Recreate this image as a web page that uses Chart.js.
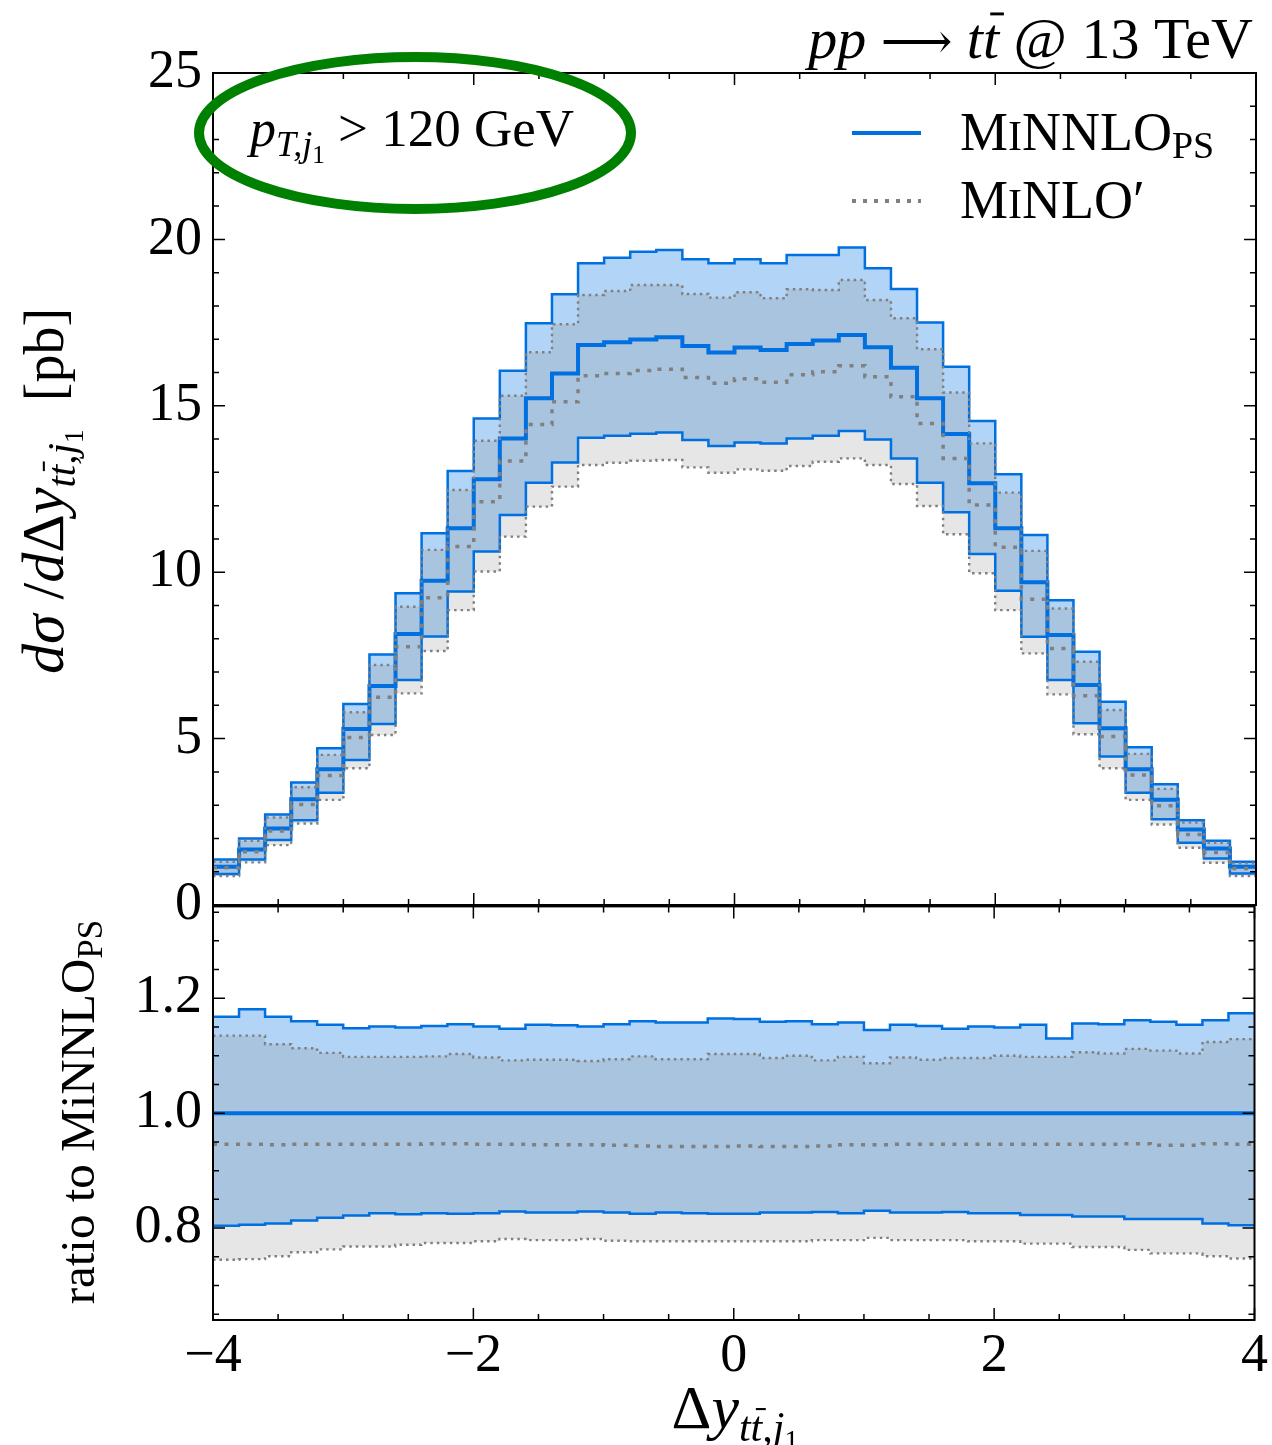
<!DOCTYPE html>
<html>
<head>
<meta charset="utf-8">
<script src="https://cdn.jsdelivr.net/npm/chart.js@4.4.1/dist/chart.umd.min.js"></script>
<style>
  html, body { margin: 0; padding: 0; background: #fff; }
  #wrap { position: relative; width: 1272px; height: 1445px; overflow: hidden; }
  #top { position: absolute; left: 0; top: 0; }
  #bottom { position: absolute; left: 0; top: 863px; }
</style>
</head>
<body>
<div id="wrap">
  <canvas id="top" width="1272" height="960"></canvas>
  <canvas id="bottom" width="1272" height="582"></canvas>
</div>
<script>
// bin edges of delta y (40 bins of 0.2)
const edges = [-4.0,-3.8,-3.6,-3.4,-3.2,-3.0,-2.8,-2.6,-2.4,-2.2,-2.0,-1.8,-1.6,-1.4,-1.2,-1.0,-0.8,-0.6,-0.4,-0.2,
  0.0,0.2,0.4,0.6,0.8,1.0,1.2,1.4,1.6,1.8,2.0,2.2,2.4,2.6,2.8,3.0,3.2,3.4,3.6,3.8,4.0];

// top panel, dsigma/dDy [pb]
const minnlo = [1.15,1.67,2.30,3.18,4.08,5.29,6.58,8.14,9.74,11.32,12.79,14.02,15.23,15.97,16.83,16.91,16.99,17.06,16.80,16.60,
  16.75,16.68,16.86,16.96,17.13,16.76,16.14,15.23,14.15,12.67,11.32,9.70,8.11,6.61,5.31,4.08,3.16,2.27,1.70,1.15];
const minnloUp = [1.37,2.00,2.72,3.68,4.71,6.04,7.53,9.37,11.17,13.04,14.62,16.05,17.48,18.35,19.28,19.45,19.63,19.68,19.40,19.28,
  19.40,19.28,19.53,19.53,19.76,19.13,18.51,17.50,16.17,14.54,12.94,11.12,9.16,7.61,6.11,4.74,3.63,2.55,1.93,1.30];
const minnloDown = [0.93,1.37,1.95,2.55,3.37,4.36,5.44,6.76,8.07,9.42,10.62,11.72,12.69,13.30,14.04,14.10,14.16,14.20,13.97,13.79,
  13.90,13.87,14.02,14.10,14.24,13.99,13.42,12.69,11.80,10.55,9.44,8.06,6.76,5.46,4.46,3.37,2.58,1.87,1.40,0.95];
const minlo = [1.12,1.60,2.22,3.02,3.89,5.03,6.24,7.76,9.23,10.77,12.12,13.34,14.44,15.12,15.90,15.97,16.06,16.10,15.85,15.68,
  15.81,15.71,15.93,16.02,16.20,15.87,15.27,14.47,13.42,12.02,10.75,9.19,7.71,6.29,5.06,3.91,2.98,2.12,1.58,1.10];
const minloUp = [1.30,1.93,2.63,3.54,4.51,5.79,7.21,8.96,10.67,12.47,13.95,15.30,16.61,17.45,18.33,18.45,18.63,18.63,18.36,18.25,
  18.41,18.23,18.50,18.48,18.78,18.18,17.63,16.70,15.40,13.87,12.39,10.64,8.91,7.31,5.86,4.54,3.49,2.48,1.87,1.25];
const minloDown = [0.87,1.28,1.80,2.45,3.16,4.11,5.11,6.36,7.63,8.86,10.02,11.07,11.97,12.57,13.22,13.29,13.35,13.37,13.15,12.99,
  13.09,13.05,13.19,13.32,13.42,13.22,12.65,11.99,11.14,9.97,8.86,7.56,6.33,5.13,4.11,3.16,2.42,1.72,1.27,0.87];

// bottom panel, ratio to MiNNLO_PS
const ratioNominal = [1,1,1,1,1,1,1,1,1,1,1,1,1,1,1,1,1,1,1,1,1,1,1,1,1,1,1,1,1,1,1,1,1,1,1,1,1,1,1,1];
const ratioUp = [1.168,1.181,1.168,1.160,1.154,1.148,1.151,1.149,1.152,1.155,1.151,1.147,1.154,1.153,1.151,1.155,1.160,1.158,1.158,1.165,
  1.164,1.159,1.160,1.155,1.158,1.145,1.154,1.152,1.147,1.151,1.149,1.154,1.130,1.156,1.155,1.162,1.159,1.154,1.162,1.174];
const ratioDown = [0.804,0.806,0.808,0.813,0.818,0.822,0.826,0.824,0.826,0.825,0.826,0.829,0.827,0.827,0.829,0.827,0.825,0.827,0.826,0.825,
  0.825,0.827,0.827,0.828,0.826,0.830,0.827,0.827,0.828,0.826,0.826,0.823,0.823,0.820,0.820,0.816,0.816,0.816,0.808,0.805];
const ratioMinlo = [0.946,0.946,0.945,0.946,0.946,0.946,0.946,0.946,0.947,0.947,0.946,0.946,0.945,0.945,0.945,0.944,0.943,0.942,0.942,0.942,
  0.943,0.942,0.942,0.943,0.945,0.945,0.946,0.946,0.946,0.946,0.946,0.946,0.946,0.946,0.946,0.947,0.944,0.944,0.947,0.946];
const ratioMinloUp = [1.135,1.135,1.120,1.113,1.105,1.098,1.098,1.098,1.099,1.103,1.097,1.092,1.093,1.093,1.091,1.094,1.099,1.094,1.094,1.103,
  1.103,1.096,1.100,1.092,1.098,1.087,1.097,1.093,1.096,1.096,1.100,1.098,1.098,1.106,1.104,1.112,1.109,1.104,1.124,1.129];
const ratioMinloDown = [0.745,0.746,0.751,0.758,0.763,0.768,0.768,0.771,0.774,0.774,0.777,0.781,0.779,0.779,0.781,0.778,0.777,0.777,0.777,0.777,
  0.777,0.777,0.777,0.779,0.779,0.783,0.779,0.779,0.779,0.777,0.777,0.773,0.773,0.767,0.767,0.762,0.756,0.756,0.751,0.747];

const SERIF = '"Liberation Serif", "DejaVu Serif", serif';
const BLUE = '#0070e0';
const GREY = '#808080';

// histogram values -> stepped points at the bin edges
function steps(vals) {
  const pts = vals.map((v, i) => ({ x: edges[i], y: v }));
  pts.push({ x: edges[edges.length - 1], y: vals[vals.length - 1] });
  return pts;
}

function line(vals, color, width, dash, fill) {
  return {
    data: steps(vals),
    borderColor: color,
    borderWidth: width,
    borderDash: dash || [],
    backgroundColor: fill ? fill.color : 'transparent',
    fill: fill ? '+1' : false,
    stepped: 'before',
    pointRadius: 0,
    borderCapStyle: 'butt',
  };
}

function makeSets(c, up, down, n, nUp, nDown) {
  return [
    line(n, GREY, 3.5, [4, 7.5]),
    line(nUp, GREY, 2.4, [2.5, 4], { color: 'rgba(128,128,128,0.2)' }),
    line(nDown, GREY, 2.4, [2.5, 4]),
    line(c, BLUE, 4),
    line(up, BLUE, 2.5, null, { color: 'rgba(0,112,224,0.3)' }),
    line(down, BLUE, 2.5),
  ];
}

// rich text: runs of {t, s, i, dy, bar}
function runs(ctx, list, x, y, align) {
  let w = 0;
  list.forEach(r => {
    ctx.font = (r.i ? 'italic ' : '') + r.s + 'px ' + SERIF;
    r.w = ctx.measureText(r.t).width;
    w += r.w;
  });
  let cx = align === 'right' ? x - w : align === 'center' ? x - w / 2 : x;
  list.forEach(r => {
    ctx.font = (r.i ? 'italic ' : '') + r.s + 'px ' + SERIF;
    ctx.fillText(r.t, cx, y + (r.dy || 0));
    if (r.bar) {
      // overbar, shifted right to follow the italic slant
      ctx.save();
      ctx.lineWidth = Math.max(1.5, r.s * 0.05);
      ctx.strokeStyle = '#000';
      ctx.beginPath();
      const by = y + (r.dy || 0) - r.s * 0.76;
      ctx.moveTo(cx + r.w * 0.45, by);
      ctx.lineTo(cx + r.w * 1.3, by);
      ctx.stroke();
      ctx.restore();
    }
    cx += r.w;
  });
}

// frame + inward ticks on all four sides
const frameTicks = {
  id: 'frameTicks',
  afterDatasetsDraw(chart, args, o) {
    const { ctx, chartArea: a, scales: { x, y } } = chart;
    ctx.save();
    ctx.strokeStyle = '#000';
    ctx.lineWidth = 1.5;
    const each = (sc, minor, major, fn) => {
      const n0 = Math.ceil(sc.min / minor - 1e-6), n1 = Math.floor(sc.max / minor + 1e-6);
      for (let n = n0; n <= n1; n++) {
        const v = n * minor;
        const isMaj = Math.abs(v / major - Math.round(v / major)) < 1e-6;
        fn(sc.getPixelForValue(v), isMaj ? 12 : 6);
      }
    };
    ctx.beginPath();
    each(x, o.xMinor, o.xMajor, (p, l) => {
      ctx.moveTo(p, a.bottom); ctx.lineTo(p, a.bottom - l);
      ctx.moveTo(p, a.top); ctx.lineTo(p, a.top + l);
    });
    each(y, o.yMinor, o.yMajor, (p, l) => {
      ctx.moveTo(a.left, p); ctx.lineTo(a.left + l, p);
      ctx.moveTo(a.right, p); ctx.lineTo(a.right - l, p);
    });
    ctx.stroke();
    ctx.lineWidth = 2;
    ctx.strokeRect(a.left, a.top, a.right - a.left, a.bottom - a.top);
    ctx.restore();
  }
};

const topText = {
  id: 'topText',
  afterDraw(chart) {
    const ctx = chart.ctx;
    ctx.save();
    ctx.fillStyle = '#000';
    ctx.textBaseline = 'alphabetic';
    // process title
    runs(ctx, [
      { t: 'pp', s: 58, i: true }, { t: ' ', s: 58 }, { t: '\u27f6', s: 50 }, { t: ' ', s: 58 },
      { t: 't', s: 58, i: true }, { t: 't', s: 58, i: true, bar: true },
      { t: ' @ 13 TeV', s: 58 }
    ], 1253, 58, 'right');
    // cut annotation
    ctx.strokeStyle = '#008000';
    ctx.lineWidth = 10;
    ctx.beginPath();
    ctx.ellipse(415, 133, 216, 76, 0, 0, Math.PI * 2);
    ctx.stroke();
    runs(ctx, [
      { t: 'p', s: 52, i: true }, { t: 'T,j', s: 36, i: true, dy: 10 }, { t: '1', s: 25, dy: 17 },
      { t: ' > 120 GeV', s: 53 }
    ], 250, 146, 'left');
    // legend
    ctx.lineWidth = 4;
    ctx.strokeStyle = BLUE;
    ctx.beginPath(); ctx.moveTo(852, 133); ctx.lineTo(921, 133); ctx.stroke();
    ctx.strokeStyle = GREY;
    ctx.setLineDash([4, 7]);
    ctx.beginPath(); ctx.moveTo(852, 201); ctx.lineTo(921, 201); ctx.stroke();
    ctx.setLineDash([]);
    runs(ctx, [
      { t: 'M', s: 54 }, { t: 'I', s: 42 }, { t: 'NNLO', s: 54 }, { t: 'PS', s: 38, dy: 8 }
    ], 960, 150, 'left');
    runs(ctx, [
      { t: 'M', s: 54 }, { t: 'I', s: 42 }, { t: 'NLO\u2032', s: 54 }
    ], 960, 218, 'left');
    // y title
    ctx.translate(63, 491);
    ctx.rotate(-Math.PI / 2);
    runs(ctx, [
      { t: 'd\u03c3', s: 60, i: true }, { t: ' /', s: 60 }, { t: 'd', s: 60, i: true }, { t: '\u0394', s: 60 },
      { t: 'y', s: 60, i: true }, { t: 't', s: 41, i: true, dy: 12 }, { t: 't', s: 41, i: true, dy: 12, bar: true },
      { t: ',j', s: 41, i: true, dy: 12 }, { t: '1', s: 28, dy: 20 }, { t: '  [pb]', s: 56 }
    ], 0, 0, 'center');
    ctx.restore();
  }
};

const bottomText = {
  id: 'bottomText',
  afterDraw(chart) {
    const ctx = chart.ctx;
    const oy = 863; // canvas offset on the page
    ctx.save();
    ctx.fillStyle = '#000';
    runs(ctx, [
      { t: '\u0394', s: 62 }, { t: 'y', s: 62, i: true },
      { t: 't', s: 42, i: true, dy: 13 }, { t: 't', s: 42, i: true, dy: 13, bar: true },
      { t: ',j', s: 42, i: true, dy: 13 }, { t: '1', s: 28, dy: 21 }
    ], 735, 1428 - oy, 'center');
    ctx.translate(94, 1112 - oy);
    ctx.rotate(-Math.PI / 2);
    runs(ctx, [
      { t: 'ratio to MiNNLO', s: 49 }, { t: 'PS', s: 35, dy: 8 }
    ], 0, 0, 'center');
    ctx.restore();
  }
};

const tickFont = { family: SERIF, size: 54 };

new Chart(document.getElementById('top'), {
  type: 'line',
  data: { datasets: makeSets(minnlo, minnloUp, minnloDown, minlo, minloUp, minloDown) },
  options: {
    responsive: false,
    devicePixelRatio: 1,
    animation: false,
    events: [],
    layout: { padding: { left: 0, right: 16, top: 73, bottom: 55 } },
    plugins: {
      legend: { display: false },
      tooltip: { enabled: false },
      filler: { drawTime: 'beforeDatasetsDraw' },
      frameTicks: { xMinor: 0.5, xMajor: 2, yMinor: 1, yMajor: 5 }
    },
    scales: {
      x: { type: 'linear', min: -4, max: 4, display: false },
      y: {
        min: 0, max: 25,
        grid: { display: false, drawTicks: false },
        border: { display: false },
        ticks: { stepSize: 5, font: tickFont, color: '#000', padding: 11 },
        afterFit(s) { s.width = 213; }
      }
    }
  },
  plugins: [frameTicks, topText]
});

new Chart(document.getElementById('bottom'), {
  type: 'line',
  data: { datasets: makeSets(ratioNominal, ratioUp, ratioDown, ratioMinlo, ratioMinloUp, ratioMinloDown) },
  options: {
    responsive: false,
    devicePixelRatio: 1,
    animation: false,
    events: [],
    layout: { padding: { left: 0, right: 16, top: 25, bottom: 0 } },
    plugins: {
      legend: { display: false },
      tooltip: { enabled: false },
      filler: { drawTime: 'beforeDatasetsDraw' },
      frameTicks: { xMinor: 0.5, xMajor: 2, yMinor: 0.05, yMajor: 0.2 }
    },
    scales: {
      x: {
        type: 'linear', min: -4, max: 4,
        grid: { display: false, drawTicks: false },
        border: { display: false },
        ticks: {
          stepSize: 2, font: tickFont, color: '#000', padding: 4, maxRotation: 0,
          callback: v => (v < 0 ? '\u2212' + Math.abs(v) : String(v))
        },
        afterFit(s) { s.height = 125; }
      },
      y: {
        min: 0.64, max: 1.36,
        grid: { display: false, drawTicks: false },
        border: { display: false },
        ticks: { font: tickFont, color: '#000', padding: 11, callback: v => v.toFixed(1) },
        afterBuildTicks(s) { s.ticks = [{ value: 0.8 }, { value: 1.0 }, { value: 1.2 }]; },
        afterFit(s) { s.width = 213; }
      }
    }
  },
  plugins: [frameTicks, bottomText]
});
</script>
</body>
</html>
